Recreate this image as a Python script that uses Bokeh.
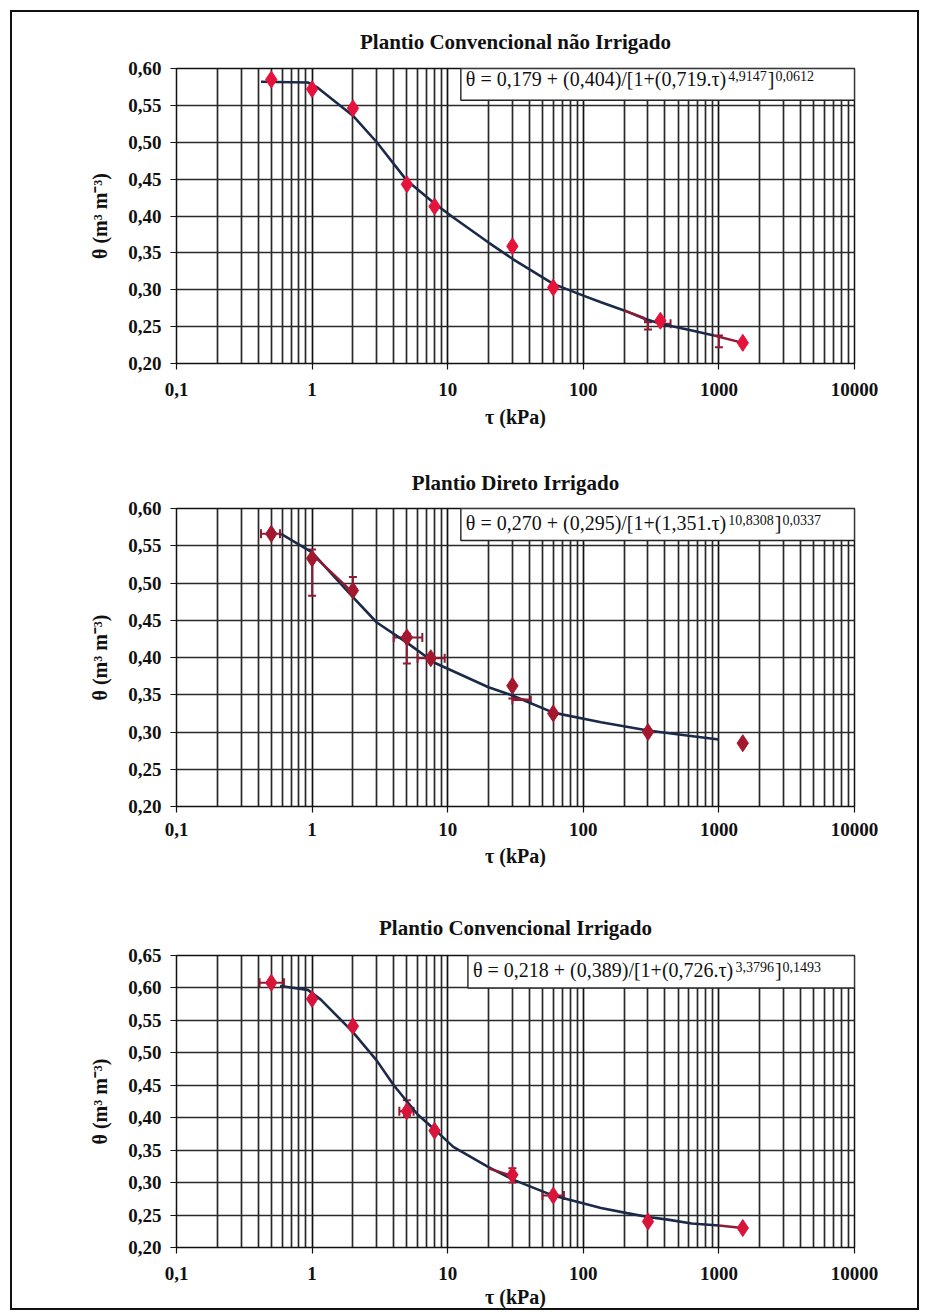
from bokeh.plotting import figure
from bokeh.layouts import column
from bokeh.models import (Range1d, FixedTicker, CustomJSTickFormatter, BoxAnnotation,
                          Label, Title, ColumnDataSource, Whisker, TeeHead)
from bokeh.embed import file_html
from bokeh.resources import INLINE

# ---------------- data ----------------
x_tick_values = [0.1, 1, 10, 100, 1000, 10000]
x_tick_labels = ["0,1", "1", "10", "100", "1000", "10000"]
x_minor_multipliers = [2, 3, 4, 5, 6, 7, 8, 9]
x_axis_title = "τ (kPa)"
y_axis_title = "θ (m³ m⁻³)"

# Panel 1 - Plantio Convencional não Irrigado
p1_title = "Plantio Convencional não Irrigado"
p1_tau = [0.5, 1, 2, 5, 8, 30, 60, 370, 1500]
p1_theta = [0.585, 0.572, 0.546, 0.443, 0.413, 0.359, 0.303, 0.258, 0.228]
p1_fit_tau = [0.42, 0.93, 1.1, 2, 3, 5, 8, 11, 20, 30, 60, 100, 135, 200, 280, 370, 620, 920]
p1_fit_theta = [0.582, 0.581, 0.574, 0.536, 0.500, 0.448, 0.417, 0.398, 0.364, 0.342,
                0.308, 0.292, 0.283, 0.272, 0.261, 0.254, 0.245, 0.238]
p1_red_tau = [[200, 280, 290], [920, 1500]]
p1_red_theta = [[0.272, 0.262, 0.256], [0.238, 0.228]]
p1_hw_theta, p1_hw_lo, p1_hw_hi = [0.254], [370], [440]
p1_vw_tau, p1_vw_lo, p1_vw_hi = [300, 1000], [0.246, 0.222], [0.256, 0.238]
p1_y_ticks = [0.20, 0.25, 0.30, 0.35, 0.40, 0.45, 0.50, 0.55, 0.60]
p1_y_labels = ["0,20", "0,25", "0,30", "0,35", "0,40", "0,45", "0,50", "0,55", "0,60"]
p1_eq = ["0,179", "0,404", "0,719", "4,9147", "0,0612"]

# Panel 2 - Plantio Direto Irrigado
p2_title = "Plantio Direto Irrigado"
p2_tau = [0.5, 1, 2, 5, 7.5, 30, 60, 300, 1500]
p2_theta = [0.566, 0.533, 0.490, 0.427, 0.399, 0.362, 0.325, 0.300, 0.285]
p2_fit_tau = [0.59, 1.0, 2, 3, 5, 8, 20, 30, 60, 135, 300, 600, 1000]
p2_fit_theta = [0.566, 0.541, 0.481, 0.447, 0.420, 0.393, 0.360, 0.349, 0.326, 0.313,
                0.302, 0.295, 0.290]
p2_red_tau = [[1.05, 2.0], [30, 40]]
p2_red_theta = [[0.535, 0.487], [0.345, 0.343]]
p2_hw_theta, p2_hw_lo, p2_hw_hi = [0.566, 0.427, 0.399, 0.343], [0.42, 4.0, 6.0, 30], [0.58, 6.5, 9.5, 41]
p2_vw_tau, p2_vw_lo, p2_vw_hi = [1.0, 2.0, 5.0, 30], [0.483, 0.490, 0.392, 0.345], [0.545, 0.508, 0.432, 0.362]
p2_y_ticks = [0.20, 0.25, 0.30, 0.35, 0.40, 0.45, 0.50, 0.55, 0.60]
p2_y_labels = ["0,20", "0,25", "0,30", "0,35", "0,40", "0,45", "0,50", "0,55", "0,60"]
p2_eq = ["0,270", "0,295", "1,351", "10,8308", "0,0337"]

# Panel 3 - Plantio Convencional Irrigado
p3_title = "Plantio Convencional Irrigado"
p3_tau = [0.5, 1, 2, 5, 8, 30, 60, 300, 1500]
p3_theta = [0.608, 0.583, 0.541, 0.410, 0.380, 0.312, 0.280, 0.240, 0.230]
p3_fit_tau = [0.58, 0.93, 1.16, 2, 3, 4, 6, 8, 11, 20, 30, 60, 135, 210, 300, 420, 630, 1000]
p3_fit_theta = [0.603, 0.597, 0.582, 0.532, 0.488, 0.450, 0.405, 0.382, 0.355, 0.324,
                0.305, 0.280, 0.261, 0.253, 0.247, 0.243, 0.237, 0.234]
p3_red_tau = [[20, 30], [1000, 1500]]
p3_red_theta = [[0.322, 0.310], [0.234, 0.230]]
p3_hw_theta, p3_hw_lo, p3_hw_hi = [0.608, 0.280, 0.410], [0.41, 50, 4.4], [0.62, 72, 5.6]
p3_vw_tau, p3_vw_lo, p3_vw_hi = [5.0, 30], [0.403, 0.300], [0.427, 0.322]
p3_y_ticks = [0.20, 0.25, 0.30, 0.35, 0.40, 0.45, 0.50, 0.55, 0.60, 0.65]
p3_y_labels = ["0,20", "0,25", "0,30", "0,35", "0,40", "0,45", "0,50", "0,55", "0,60", "0,65"]
p3_eq = ["0,218", "0,389", "0,726", "3,3796", "0,1493"]

# ---------------- styling ----------------
FONT = "Liberation Serif"
NAVY = "#1B2A48"
DARK_RED = "#8E1B33"
CHAR_W = {'.': .25, ',': .25, ' ': .25, '+': .564, '=': .564, '(': .333, ')': .333,
          '/': .278, '[': .333, ']': .333, 'θ': .5, 'τ': .44}


def text_w(s, size):
    return sum(CHAR_W.get(c, .5) for c in s) * size


x_minor = [m * d for d in x_tick_values[:-1] for m in x_minor_multipliers]


def make_panel(title, tau, theta, fit_tau, fit_theta, red_tau, red_theta,
               hw, vw, y_ticks, y_labels, eq, cfg):
    p = figure(width=905, height=cfg["height"], x_axis_type="log",
               x_range=Range1d(x_tick_values[0], x_tick_values[-1]),
               y_range=Range1d(y_ticks[0], y_ticks[-1]),
               output_backend="svg", toolbar_location=None,
               min_border_left=164, min_border_right=63,
               min_border_top=cfg["top"], min_border_bottom=cfg["bottom"],
               background_fill_color="white", border_fill_color="white")
    p.outline_line_color = "#111111"
    p.outline_line_width = 1.5

    # title
    p.title.text = title
    p.title.align = "center"
    p.title.offset = cfg["title_offset"]
    p.title.standoff = cfg["title_standoff"]
    p.title.text_font = FONT
    p.title.text_font_size = "21px"
    p.title.text_font_style = "bold"
    p.title.text_color = "#111111"

    # x axis
    p.xaxis.ticker = FixedTicker(ticks=x_tick_values, minor_ticks=x_minor)
    p.xaxis.formatter = CustomJSTickFormatter(
        args=dict(vals=x_tick_values, labs=x_tick_labels),
        code="const i = vals.findIndex(v => Math.abs(v - tick) <= 1e-9 * Math.max(1, Math.abs(v)));"
             "return i >= 0 ? labs[i] : '';")
    # y axis
    p.yaxis.ticker = FixedTicker(ticks=y_ticks)
    p.yaxis.formatter = CustomJSTickFormatter(
        args=dict(vals=y_ticks, labs=y_labels),
        code="const i = vals.findIndex(v => Math.abs(v - tick) < 1e-6);"
             "return i >= 0 ? labs[i] : '';")
    for ax in (p.xaxis, p.yaxis):
        ax.major_label_text_font = FONT
        ax.major_label_text_font_size = "19px"
        ax.major_label_text_font_style = "bold"
        ax.major_label_text_color = "#111111"
        ax.major_tick_out = 6
        ax.major_tick_in = 0
        ax.minor_tick_line_color = None
        ax.axis_line_color = "#111111"
        ax.major_tick_line_color = "#111111"
        ax.major_tick_line_width = 1.2
    p.xaxis.major_label_standoff = cfg["xl_standoff"]
    p.yaxis.major_label_standoff = 9
    p.yaxis.axis_label = y_axis_title
    p.yaxis.axis_label_text_font = FONT
    p.yaxis.axis_label_text_font_size = "20px"
    p.yaxis.axis_label_text_font_style = "bold"
    p.yaxis.axis_label_text_color = "#111111"
    p.yaxis.axis_label_standoff = 14

    xt = Title(text=x_axis_title, align="center", offset=-15, standoff=cfg["xt_standoff"],
               text_font=FONT, text_font_size="20px", text_font_style="bold",
               text_color="#111111")
    p.add_layout(xt, "below")

    # grid
    p.xgrid.grid_line_color = "#111111"
    p.xgrid.grid_line_width = 1.7
    p.xgrid.minor_grid_line_color = "#111111"
    p.xgrid.minor_grid_line_width = 1.7
    p.xgrid.minor_grid_line_alpha = 0.9
    p.ygrid.grid_line_color = "#2a2a2a"
    p.ygrid.grid_line_width = 1.4

    # fitted curve
    p.line(fit_tau, fit_theta, line_color=NAVY, line_width=2.6)
    # measured connecting pieces
    p.multi_line(red_tau, red_theta, line_color=DARK_RED, line_width=2.4)
    # error bars
    hsrc = ColumnDataSource(dict(base=hw[0], lower=hw[1], upper=hw[2]))
    p.add_layout(Whisker(source=hsrc, base="base", lower="lower", upper="upper",
                         dimension="width", line_color=DARK_RED, line_width=2,
                         lower_head=TeeHead(size=9, line_color=DARK_RED, line_width=2),
                         upper_head=TeeHead(size=9, line_color=DARK_RED, line_width=2)))
    vsrc = ColumnDataSource(dict(base=vw[0], lower=vw[1], upper=vw[2]))
    p.add_layout(Whisker(source=vsrc, base="base", lower="lower", upper="upper",
                         dimension="height", line_color=DARK_RED, line_width=2,
                         lower_head=TeeHead(size=8, line_color=DARK_RED, line_width=2),
                         upper_head=TeeHead(size=8, line_color=DARK_RED, line_width=2)))
    # measured points
    p.scatter(tau, theta, marker="diamond", size=17, fill_color=cfg["marker"],
              line_color=cfg["marker"], line_width=1)

    # equation box
    box = BoxAnnotation(left=cfg["box_left"], right=x_tick_values[-1],
                        bottom=cfg["box_bottom"], top=cfg["box_top"],
                        fill_color="white", fill_alpha=1.0,
                        line_color="#222222", line_width=1.4, line_alpha=1.0)
    p.add_layout(box)
    a, b, c, n, m = eq
    base = f"θ = {a} + ({b})/[1+({c}.τ)"
    off = 5
    p.add_layout(Label(x=cfg["box_left"], y=cfg["eq_y"], x_offset=off, text=base,
                       text_font=FONT, text_font_size="20px", text_baseline="middle",
                       text_color="#111111"))
    off += text_w(base, 20) + 1
    p.add_layout(Label(x=cfg["box_left"], y=cfg["eq_y"], x_offset=off, y_offset=3, text=n,
                       text_font=FONT, text_font_size="14px", text_baseline="middle",
                       text_color="#111111"))
    off += text_w(n, 14) + 1
    p.add_layout(Label(x=cfg["box_left"], y=cfg["eq_y"], x_offset=off, text="]",
                       text_font=FONT, text_font_size="20px", text_baseline="middle",
                       text_color="#111111"))
    off += text_w("]", 20) + 1
    p.add_layout(Label(x=cfg["box_left"], y=cfg["eq_y"], x_offset=off, y_offset=3, text=m,
                       text_font=FONT, text_font_size="14px", text_baseline="middle",
                       text_color="#111111"))
    return p


cfg1 = dict(height=433, top=56, bottom=82, title_offset=-50, title_standoff=29,
            xl_standoff=13, xt_standoff=10, marker="#E5123C", box_left=12.5,
            box_bottom=0.557, box_top=0.60, eq_y=0.586)
cfg2 = dict(height=435, top=63, bottom=74, title_offset=-37, title_standoff=28,
            xl_standoff=10, xt_standoff=8, marker="#A3182F", box_left=12.5,
            box_bottom=0.557, box_top=0.60, eq_y=0.580)
cfg3 = dict(height=428, top=75, bottom=58, title_offset=-35, title_standoff=32,
            xl_standoff=13, xt_standoff=2, marker="#D8143A", box_left=14.1,
            box_bottom=0.60, box_top=0.65, eq_y=0.627)

f1 = make_panel(p1_title, p1_tau, p1_theta, p1_fit_tau, p1_fit_theta, p1_red_tau, p1_red_theta,
                (p1_hw_theta, p1_hw_lo, p1_hw_hi), (p1_vw_tau, p1_vw_lo, p1_vw_hi),
                p1_y_ticks, p1_y_labels, p1_eq, cfg1)
f2 = make_panel(p2_title, p2_tau, p2_theta, p2_fit_tau, p2_fit_theta, p2_red_tau, p2_red_theta,
                (p2_hw_theta, p2_hw_lo, p2_hw_hi), (p2_vw_tau, p2_vw_lo, p2_vw_hi),
                p2_y_ticks, p2_y_labels, p2_eq, cfg2)
f3 = make_panel(p3_title, p3_tau, p3_theta, p3_fit_tau, p3_fit_theta, p3_red_tau, p3_red_theta,
                (p3_hw_theta, p3_hw_lo, p3_hw_hi), (p3_vw_tau, p3_vw_lo, p3_vw_hi),
                p3_y_ticks, p3_y_labels, p3_eq, cfg3)

layout = column(f1, f2, f3, margin=(10, 10, 6, 10), spacing=0,
                styles={"border": "2px solid #111111", "background": "white"})

open("out.html", "w").write(file_html(layout, INLINE, title="Curvas de retenção"))
